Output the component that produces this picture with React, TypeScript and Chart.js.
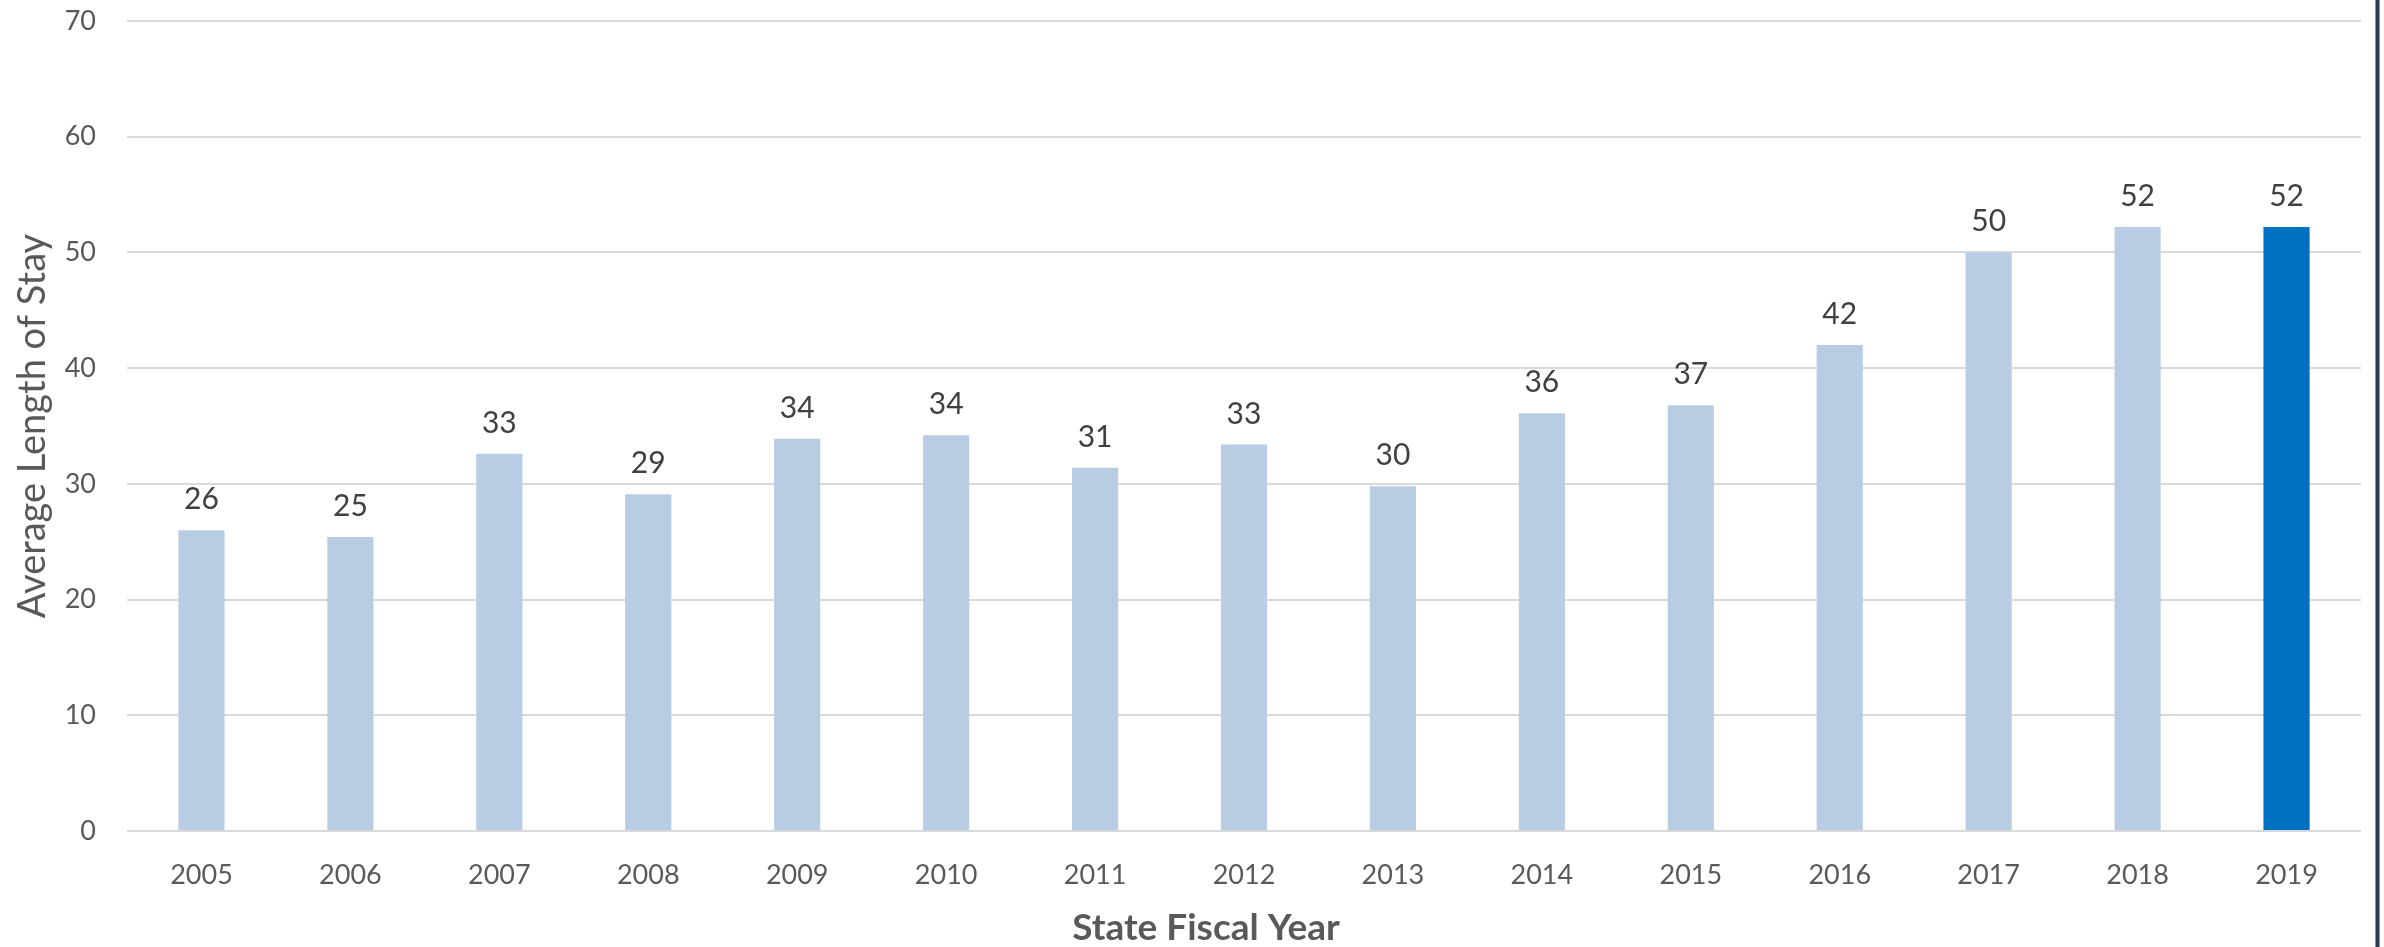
import React, { useEffect, useRef } from "react";
import { Chart, registerables } from "chart.js";

Chart.register(...registerables);

const years = ["2005", "2006", "2007", "2008", "2009", "2010", "2011", "2012", "2013", "2014", "2015", "2016", "2017", "2018", "2019"];
const avgLengthOfStay = [26.0, 25.4, 32.6, 29.1, 33.9, 34.2, 31.4, 33.4, 29.8, 36.1, 36.8, 42.0, 50.0, 52.2, 52.2];
const yTicks = [0, 10, 20, 30, 40, 50, 60, 70];
const xAxisTitle = "State Fiscal Year";
const yAxisTitle = "Average Length of Stay";

const LIGHT = "#B8CCE4";
const DARK = "#0070C0";
const FONT = "Lato, 'Open Sans', sans-serif";

const valueLabels = {
  id: "valueLabels",
  afterDatasetsDraw(chart: any) {
    const ctx = chart.ctx;
    const meta = chart.getDatasetMeta(0);
    ctx.save();
    ctx.font = `30px ${FONT}`;
    ctx.fillStyle = "#404040";
    ctx.textAlign = "center";
    ctx.textBaseline = "alphabetic";
    meta.data.forEach((bar: any, i: number) => {
      const v = chart.data.datasets[0].data[i] as number;
      ctx.fillText(String(Math.round(v)), bar.x, bar.y - 21);
    });
    ctx.restore();
  },
};

const xTitle = {
  id: "xTitle",
  afterDraw(chart: any) {
    const ctx = chart.ctx;
    ctx.save();
    ctx.font = `bold 37px ${FONT}`;
    ctx.fillStyle = "#595959";
    ctx.textAlign = "center";
    ctx.textBaseline = "middle";
    ctx.fillText(xAxisTitle, chart.width / 2 + 14, 928);
    ctx.restore();
  },
};

export default function App() {
  const ref = useRef<HTMLCanvasElement | null>(null);
  useEffect(() => {
    if (!ref.current) return;
    const chart = new Chart(ref.current, {
      type: "bar",
      data: {
        labels: years,
        datasets: [
          {
            data: avgLengthOfStay,
            backgroundColor: years.map((_, i) => (i === years.length - 1 ? DARK : LIGHT)),
            borderWidth: 0,
            barPercentage: 0.31,
            categoryPercentage: 1,
          },
        ],
      },
      options: {
        animation: false,
        responsive: true,
        maintainAspectRatio: false,
        layout: { padding: { left: 0, right: 23, top: 21, bottom: 0 } },
        plugins: { legend: { display: false }, tooltip: { enabled: false } },
        scales: {
          x: {
            grid: { display: false, drawTicks: false },
            border: { display: false },
            ticks: { font: { family: FONT, size: 27 }, color: "#595959", padding: 28 },
            afterFit: (s: any) => {
              s.height = 116;
              s.paddingLeft = 0;
              s.paddingRight = 0;
            },
          },
          y: {
            min: 0,
            max: 70,
            afterBuildTicks: (s: any) => {
              s.ticks = yTicks.map((v) => ({ value: v }));
            },
            grid: { color: "#D9D9D9", lineWidth: 2, drawTicks: false },
            border: { display: false },
            ticks: { font: { family: FONT, size: 27 }, color: "#595959", padding: 31 },
            title: {
              display: true,
              text: yAxisTitle,
              font: { family: FONT, size: 38 },
              color: "#595959",
              padding: { top: 10, bottom: 0 },
            },
            afterFit: (s: any) => {
              s.width = 127;
              s.paddingTop = 0;
              s.paddingBottom = 0;
            },
          },
        },
      },
      plugins: [valueLabels, xTitle],
    });
    return () => chart.destroy();
  }, []);
  return (
    <div style={{ position: "absolute", left: 0, top: 0, width: 2384, height: 947, background: "#fff" }}>
      <canvas ref={ref} />
      <div
        style={{
          position: "absolute",
          left: 2375,
          top: 0,
          width: 3,
          height: 947,
          background: "#2E3B55",
          borderLeft: "1px solid #8896AE",
          borderRight: "1px solid #8896AE",
        }}
      />
    </div>
  );
}
